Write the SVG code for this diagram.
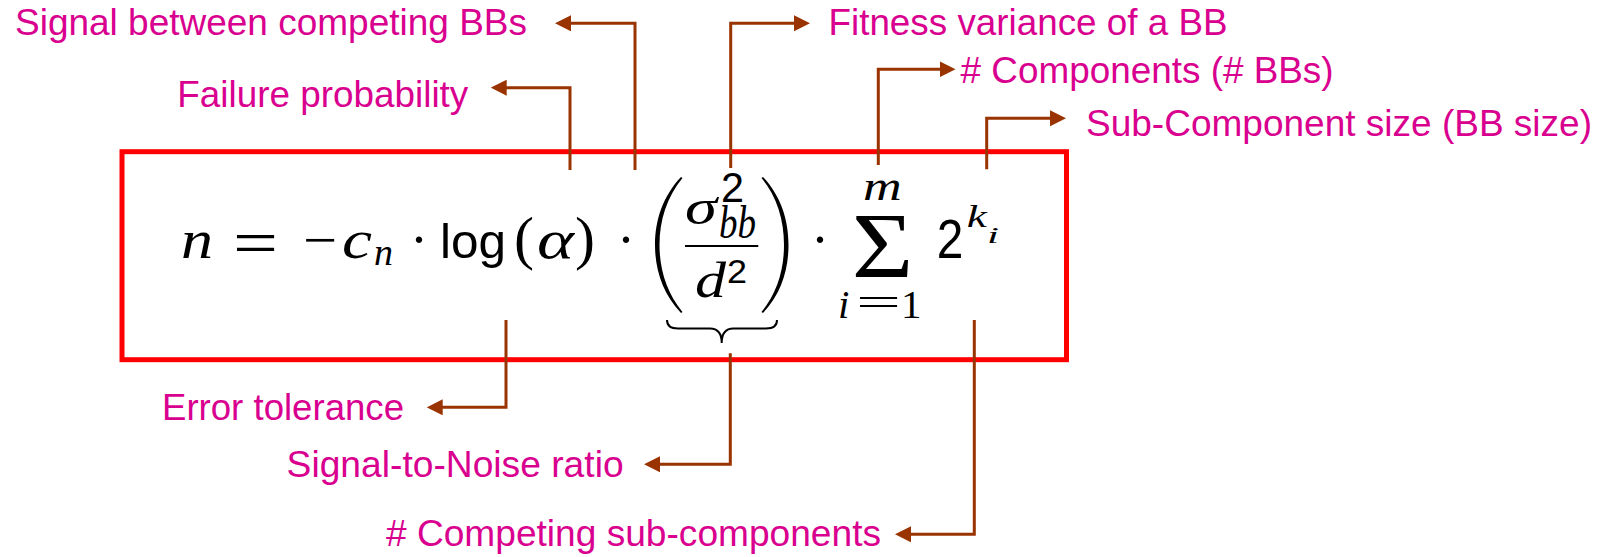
<svg xmlns="http://www.w3.org/2000/svg" width="1613" height="557" viewBox="0 0 1613 557">
<style>
.lbl{font-family:"Liberation Sans",Arial,sans-serif;font-size:37px;fill:#d9008f}
.conn{fill:none;stroke:#993300;stroke-width:3;marker-end:url(#ah)}
.mi{font-family:"Liberation Serif","Times New Roman",serif;font-style:italic;fill:#000}
.mr{font-family:"Liberation Serif","Times New Roman",serif;fill:#000}
.ms{font-family:"Liberation Sans",Arial,sans-serif;fill:#000}
</style>
<defs>
<marker id="ah" markerUnits="userSpaceOnUse" viewBox="0 0 16 16" refX="6" refY="8" markerWidth="16" markerHeight="16" orient="auto">
<path d="M0,0 L16,8 L0,16 z" fill="#993300"/>
</marker>
</defs>
<rect width="1613" height="557" fill="#fff"/>
<g id="formula">
<rect x="122" y="151.7" width="944.5" height="208" fill="none" stroke="#ff0000" stroke-width="5"/>
<text class="mi" x="181" y="258.3" font-size="54" textLength="32" lengthAdjust="spacingAndGlyphs">n</text>
<text class="mr" x="233" y="264" font-size="64" textLength="45" lengthAdjust="spacingAndGlyphs">=</text>
<text class="mr" x="303" y="258.3" font-size="54" textLength="34" lengthAdjust="spacingAndGlyphs">−</text>
<text class="mi" x="342" y="258.3" font-size="54" textLength="30" lengthAdjust="spacingAndGlyphs">c</text>
<text class="mi" x="374" y="265" font-size="38">n</text>
<text class="mr" x="410" y="258.3" font-size="54">·</text>
<text class="ms" x="440" y="258.3" font-size="49" textLength="66" lengthAdjust="spacingAndGlyphs">log</text>
<text class="mr" x="514" y="258.3" font-size="60">(</text>
<text class="mi" x="537" y="258.3" font-size="54" textLength="37" lengthAdjust="spacingAndGlyphs">α</text>
<text class="mr" x="575" y="258.3" font-size="60">)</text>
<text class="mr" x="617" y="258.3" font-size="54">·</text>
<path d="M681,177 C663,196 655,220 655,245 C655,270 663,294 681,313 L682.5,312 C667,293 659.5,270 659.5,245 C659.5,220 667,197 682.5,178 Z" fill="#000"/>
<text class="mi" x="685" y="223.5" font-size="50" textLength="32" lengthAdjust="spacingAndGlyphs">σ</text>
<text class="ms" x="721" y="201.7" font-size="42" textLength="23" lengthAdjust="spacingAndGlyphs">2</text>
<text class="mi" x="719" y="238" font-size="46" textLength="37" lengthAdjust="spacingAndGlyphs">bb</text>
<line x1="685" y1="246" x2="758.3" y2="246" stroke="#000" stroke-width="2"/>
<text class="mi" x="695" y="296.7" font-size="51" textLength="31" lengthAdjust="spacingAndGlyphs">d</text>
<text class="ms" x="727" y="283.3" font-size="33" textLength="20" lengthAdjust="spacingAndGlyphs">2</text>
<path d="M763,177 C781,196 788.5,220 788.5,245 C788.5,270 781,294 763,313 L761.5,312 C777,293 784,270 784,245 C784,220 777,197 761.5,178 Z" fill="#000"/>
<path d="M667,320 Q667,328.5 678,328.5 L710,328.5 Q721.7,328.5 721.7,343 Q721.7,328.5 733.4,328.5 L766,328.5 Q777,328.5 777,320" fill="none" stroke="#000" stroke-width="2"/>
<text class="mr" x="811" y="258.3" font-size="54">·</text>
<text class="mr" x="851.7" y="276.7" font-size="94" textLength="61.6" lengthAdjust="spacingAndGlyphs">Σ</text>
<text class="mi" x="863" y="200" font-size="42" textLength="38.7" lengthAdjust="spacingAndGlyphs">m</text>
<text class="mi" x="838" y="318.3" font-size="41">i</text>
<text class="mr" x="856" y="315.5" font-size="41" textLength="45" lengthAdjust="spacingAndGlyphs">=</text>
<text class="mr" x="901" y="318.3" font-size="41">1</text>
<text class="ms" x="936.7" y="258.3" font-size="56" textLength="26.6" lengthAdjust="spacingAndGlyphs">2</text>
<text class="mi" x="966.7" y="226.7" font-size="32" textLength="20" lengthAdjust="spacingAndGlyphs">k</text>
<text class="mi" x="987" y="243" font-size="24" textLength="12" lengthAdjust="spacingAndGlyphs">i</text>
</g>
<g id="connectors">
<path class="conn" d="M635,170 V23.3 H565"/>
<path class="conn" d="M570,170 V87.7 H500.7"/>
<path class="conn" d="M730.7,168 V23.3 H800"/>
<path class="conn" d="M878.3,165 V69.3 H945.5"/>
<path class="conn" d="M986.7,169.3 V118.3 H1056"/>
<path class="conn" d="M506,320 V407.3 H436.7"/>
<path class="conn" d="M730.3,353.3 V464.3 H654"/>
<path class="conn" d="M974.3,320 V534.3 H905"/>
</g>
<g id="signal-between"><text class="lbl" x="15" y="35" textLength="512" lengthAdjust="spacingAndGlyphs">Signal between competing BBs</text></g>
<g id="failure-probability"><text class="lbl" x="177.3" y="106.7" textLength="291" lengthAdjust="spacingAndGlyphs">Failure probability</text></g>
<g id="fitness-variance"><text class="lbl" x="828.5" y="35" textLength="399" lengthAdjust="spacingAndGlyphs">Fitness variance of a BB</text></g>
<g id="components"><text class="lbl" x="960.6" y="83" textLength="373" lengthAdjust="spacingAndGlyphs"># Components (# BBs)</text></g>
<g id="sub-component-size"><text class="lbl" x="1086" y="136" textLength="506" lengthAdjust="spacingAndGlyphs">Sub-Component size (BB size)</text></g>
<g id="error-tolerance"><text class="lbl" x="162" y="420" textLength="242" lengthAdjust="spacingAndGlyphs">Error tolerance</text></g>
<g id="signal-to-noise"><text class="lbl" x="286.6" y="477" textLength="337" lengthAdjust="spacingAndGlyphs">Signal-to-Noise ratio</text></g>
<g id="competing-sub-components"><text class="lbl" x="386" y="546" textLength="495" lengthAdjust="spacingAndGlyphs"># Competing sub-components</text></g>
</svg>
